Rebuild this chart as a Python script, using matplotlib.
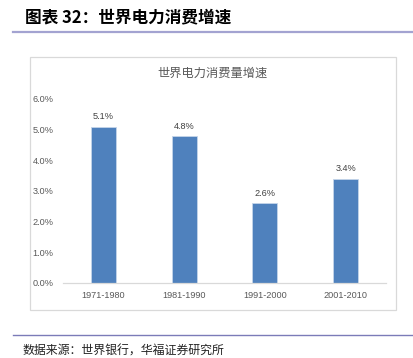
import matplotlib.pyplot as plt
from matplotlib.patches import Rectangle
from matplotlib.lines import Line2D
from matplotlib.ticker import FuncFormatter

plt.rcParams['font.family'] = ['Noto Sans CJK SC', 'DejaVu Sans']

# 数据
periods = ['1971-1980', '1981-1990', '1991-2000', '2001-2010']
growth = [5.1, 4.8, 2.6, 3.4]
labels = ['5.1%', '4.8%', '2.6%', '3.4%']

W, H = 414, 358
fig = plt.figure(figsize=(W / 100, H / 100), dpi=100)

# 顶部标题与分隔线
fig.text(25 / W, 1 - 17 / H, '图表 32：世界电力消费增速', fontsize=12,
         fontweight='bold', va='center', ha='left', color='black')
fig.add_artist(Line2D([13 / W, 413 / W], [1 - 32 / H, 1 - 32 / H],
                      color='#A3A3D1', lw=1.6, transform=fig.transFigure))

# 图表外框
fig.add_artist(Rectangle((30.5 / W, 1 - 310 / H), 366 / W, 253 / H,
                         transform=fig.transFigure, fill=False,
                         edgecolor='#D9D9D9', lw=0.9))
fig.text(213 / W, 1 - 73 / H, '世界电力消费量增速', fontsize=8.8,
         color='#595959', ha='center', va='center')

# 柱状图
ax = fig.add_axes([63 / W, 1 - 282.7 / H, 323 / W, 183.7 / H])
x = range(len(periods))
ax.bar(x, growth, width=0.31, color='#4F81BD', edgecolor='#C5D5EA', lw=0.6)
for i, v in enumerate(growth):
    ax.text(i, v + 0.17, labels[i], ha='center', va='bottom', fontsize=6.6,
            color='#404040', family='Liberation Sans')

ax.set_xlim(-0.5, 3.5)
ax.set_ylim(0, 6)
ax.set_yticks([0, 1, 2, 3, 4, 5, 6])
ax.yaxis.set_major_formatter(FuncFormatter(lambda v, p: f'{v:.1f}%'))
ax.set_xticks(list(x))
ax.set_xticklabels(periods)
for lab in ax.get_xticklabels() + ax.get_yticklabels():
    lab.set_family('Liberation Sans')
    lab.set_fontsize(6.6)
    lab.set_color('#595959')
ax.tick_params(length=0, pad=6)
ax.tick_params(axis='y', pad=7)
for s in ['top', 'right', 'left']:
    ax.spines[s].set_visible(False)
ax.spines['bottom'].set_color('#D9D9D9')
ax.spines['bottom'].set_linewidth(0.9)

# 底部来源
fig.add_artist(Line2D([13 / W, 413 / W], [1 - 335 / H, 1 - 335 / H],
                      color='#7B7BB8', lw=1.0, transform=fig.transFigure))
fig.text(23 / W, 1 - 351 / H, '数据来源：世界银行，华福证券研究所', fontsize=8.6,
         va='center', ha='left', color='#222222')

fig.savefig('out.png', dpi=100)
